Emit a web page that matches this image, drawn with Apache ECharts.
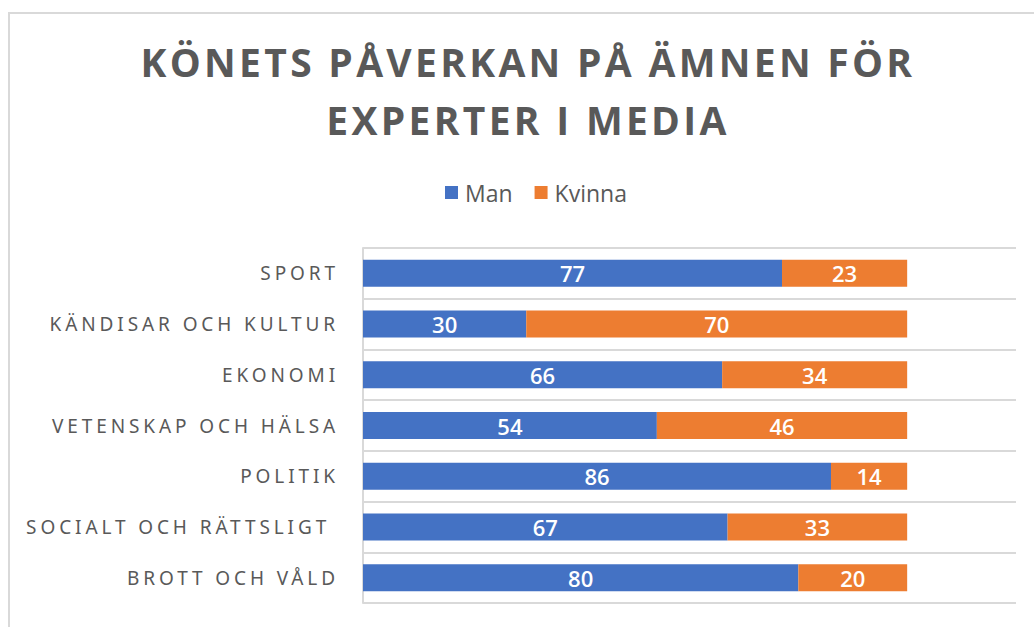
<!DOCTYPE html>
<html>
<head>
<meta charset="utf-8">
<script src="https://cdn.jsdelivr.net/npm/echarts@6/dist/echarts.min.js"></script>
<style>
  html, body { margin: 0; padding: 0; background: #fff; overflow: hidden; }
  #main {
    position: absolute; left: 8px; top: 12px;
    width: 1036px; height: 613px;
    border-left: 2px solid #d9d9d9; border-top: 2px solid #d9d9d9;
  }
</style>
</head>
<body>
<div id="main"></div>
<script>
// kategorier uppifrån och ned
var categories = ['SPORT', 'KÄNDISAR OCH KULTUR', 'EKONOMI', 'VETENSKAP OCH HÄLSA', 'POLITIK', 'SOCIALT OCH RÄTTSLIGT\u00a0', 'BROTT OCH VÅLD'];
var manValues = [77, 30, 66, 54, 86, 67, 80];
var kvinnaValues = [23, 70, 34, 46, 14, 33, 20];
var seriesNames = ['Man', 'Kvinna'];
var titleLines = ['KÖNETS PÅVERKAN PÅ ÄMNEN FÖR', 'EXPERTER I MEDIA'];

var myChart = echarts.init(document.getElementById('main'), null, {renderer: 'svg'});

var barLabel = {
    show: true,
    position: 'inside',
    color: '#fff',
    fontFamily: 'Open Sans',
    fontWeight: 600,
    fontSize: 22
};

var option = {
    animation: false,
    title: {
        text: titleLines.join('\n'),
        left: 'center',
        top: 13,
        textStyle: {
            fontFamily: 'Open Sans',
            fontWeight: 'bold',
            fontSize: 39,
            lineHeight: 58,
            color: '#595959'
        }
    },
    legend: {
        data: seriesNames,
        left: 430,
        top: 162,
        icon: 'rect',
        itemWidth: 13,
        itemHeight: 13,
        itemGap: 22,
        textStyle: {
            fontFamily: 'Open Sans',
            fontSize: 23,
            color: '#595959',
            padding: [0, 0, 0, 2]
        }
    },
    grid: {
        left: 353,
        right: 30,
        top: 234,
        bottom: 24
    },
    xAxis: {
        type: 'value',
        min: 0,
        max: 120,
        show: false
    },
    yAxis: {
        type: 'category',
        inverse: true,
        data: categories,
        axisLine: { show: true, lineStyle: { color: '#d9d9d9', width: 2 } },
        axisTick: { show: false },
        splitLine: { show: true, lineStyle: { color: '#d9d9d9', width: 2 } },
        axisLabel: {
            margin: 24,
            fontFamily: 'Noto Sans',
            fontSize: 19,
            color: '#595959'
        }
    },
    series: [
        {
            name: seriesNames[0],
            type: 'bar',
            stack: 'kon',
            barWidth: 27,
            itemStyle: { color: '#4472C4' },
            label: barLabel,
            data: manValues
        },
        {
            name: seriesNames[1],
            type: 'bar',
            stack: 'kon',
            barWidth: 27,
            itemStyle: { color: '#ED7D31' },
            label: barLabel,
            data: kvinnaValues
        }
    ]
};

// spärrad text (som i originalet) för titel och kategorier
function spaceLetters() {
    var texts = document.querySelectorAll('#main svg text');
    texts.forEach(function (t) {
        var s = t.textContent;
        if (categories.indexOf(s) >= 0) {
            t.style.letterSpacing = '3.9px';
        } else if (titleLines.indexOf(s) >= 0) {
            t.style.letterSpacing = '3.3px';
        }
    });
}
myChart.on('finished', spaceLetters);
myChart.setOption(option);
spaceLetters();
</script>
</body>
</html>
